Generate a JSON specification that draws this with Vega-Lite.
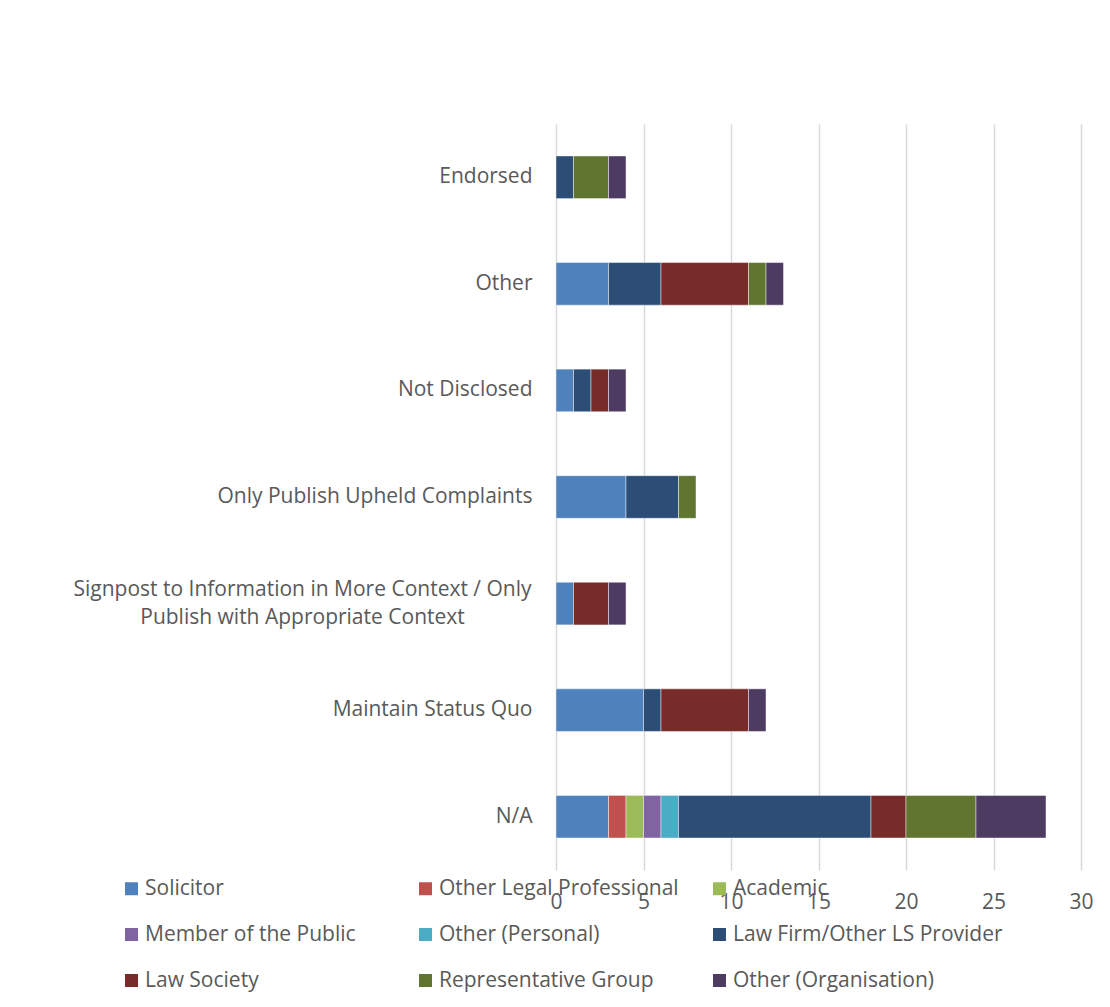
{
  "$schema": "https://vega.github.io/schema/vega-lite/v6.json",
  "width": 525,
  "height": 746,
  "autosize": {"type": "none"},
  "padding": {"left": 556, "top": 124, "right": 29, "bottom": 137},
  "background": "white",
  "config": {
    "view": {"stroke": null},
    "font": "Open Sans"
  },
  "data": {
    "values": [
      {"cat": "Endorsed", "group": "Law Firm/Other LS Provider", "k": 6, "n": 1},
      {"cat": "Endorsed", "group": "Representative Group", "k": 8, "n": 2},
      {"cat": "Endorsed", "group": "Other (Organisation)", "k": 9, "n": 1},
      {"cat": "Other", "group": "Solicitor", "k": 1, "n": 3},
      {"cat": "Other", "group": "Law Firm/Other LS Provider", "k": 6, "n": 3},
      {"cat": "Other", "group": "Law Society", "k": 7, "n": 5},
      {"cat": "Other", "group": "Representative Group", "k": 8, "n": 1},
      {"cat": "Other", "group": "Other (Organisation)", "k": 9, "n": 1},
      {"cat": "Not Disclosed", "group": "Solicitor", "k": 1, "n": 1},
      {"cat": "Not Disclosed", "group": "Law Firm/Other LS Provider", "k": 6, "n": 1},
      {"cat": "Not Disclosed", "group": "Law Society", "k": 7, "n": 1},
      {"cat": "Not Disclosed", "group": "Other (Organisation)", "k": 9, "n": 1},
      {"cat": "Only Publish Upheld Complaints", "group": "Solicitor", "k": 1, "n": 4},
      {"cat": "Only Publish Upheld Complaints", "group": "Law Firm/Other LS Provider", "k": 6, "n": 3},
      {"cat": "Only Publish Upheld Complaints", "group": "Representative Group", "k": 8, "n": 1},
      {"cat": "Signpost", "group": "Solicitor", "k": 1, "n": 1},
      {"cat": "Signpost", "group": "Law Society", "k": 7, "n": 2},
      {"cat": "Signpost", "group": "Other (Organisation)", "k": 9, "n": 1},
      {"cat": "Maintain Status Quo", "group": "Solicitor", "k": 1, "n": 5},
      {"cat": "Maintain Status Quo", "group": "Law Firm/Other LS Provider", "k": 6, "n": 1},
      {"cat": "Maintain Status Quo", "group": "Law Society", "k": 7, "n": 5},
      {"cat": "Maintain Status Quo", "group": "Other (Organisation)", "k": 9, "n": 1},
      {"cat": "N/A", "group": "Solicitor", "k": 1, "n": 3},
      {"cat": "N/A", "group": "Other Legal Professional", "k": 2, "n": 1},
      {"cat": "N/A", "group": "Academic", "k": 3, "n": 1},
      {"cat": "N/A", "group": "Member of the Public", "k": 4, "n": 1},
      {"cat": "N/A", "group": "Other (Personal)", "k": 5, "n": 1},
      {"cat": "N/A", "group": "Law Firm/Other LS Provider", "k": 6, "n": 11},
      {"cat": "N/A", "group": "Law Society", "k": 7, "n": 2},
      {"cat": "N/A", "group": "Representative Group", "k": 8, "n": 4},
      {"cat": "N/A", "group": "Other (Organisation)", "k": 9, "n": 4}
    ]
  },
  "mark": {"type": "bar", "stroke": "white", "strokeWidth": 0.75, "strokeOpacity": 0.6},
  "encoding": {
    "y": {
      "field": "cat",
      "type": "nominal",
      "sort": ["Endorsed", "Other", "Not Disclosed", "Only Publish Upheld Complaints", "Signpost", "Maintain Status Quo", "N/A"],
      "scale": {"paddingInner": 0.6, "paddingOuter": 0.3},
      "axis": {
        "title": null,
        "domain": false,
        "ticks": false,
        "labelFontSize": 21,
        "labelColor": "#595959",
        "labelLimit": 600,
        "labelLineHeight": 28,
        "labelExpr": "datum.value == 'Signpost' ? ['Signpost to Information in More Context / Only', 'Publish with Appropriate Context'] : datum.value",
        "labelAlign": {"condition": {"test": "datum.value == 'Signpost'", "value": "center"}, "value": "right"},
        "labelPadding": {"condition": {"test": "datum.value == 'Signpost'", "value": 254}, "value": 24},
        "labelOffset": {"condition": {"test": "datum.value == 'Signpost'", "value": -14}, "value": 0}
      }
    },
    "x": {
      "field": "n",
      "type": "quantitative",
      "aggregate": "sum",
      "stack": "zero",
      "scale": {"domain": [0, 30]},
      "axis": {
        "title": null,
        "values": [0, 5, 10, 15, 20, 25, 30],
        "domain": false,
        "ticks": false,
        "grid": true,
        "gridColor": "#D9D9D9",
        "gridWidth": 1.5,
        "labelFontSize": 21,
        "labelColor": "#595959",
        "labelPadding": 21,
        "labelFlush": false
      }
    },
    "order": {"field": "k", "type": "quantitative"},
    "color": {
      "field": "group",
      "type": "nominal",
      "scale": {
        "domain": ["Solicitor", "Other Legal Professional", "Academic", "Member of the Public", "Other (Personal)", "Law Firm/Other LS Provider", "Law Society", "Representative Group", "Other (Organisation)"],
        "range": ["#4F81BD", "#C0504D", "#9BBB59", "#8064A2", "#4BACC6", "#2C4D75", "#772C2A", "#5F7530", "#4D3B62"]
      },
      "legend": {
        "title": null,
        "orient": "none",
        "legendX": -435,
        "legendY": 754,
        "direction": "horizontal",
        "columns": 3,
        "gridAlign": "all",
        "columnPadding": 0,
        "rowPadding": 24,
        "symbolType": "square",
        "symbolSize": 169,
        "symbolStrokeWidth": 0,
        "symbolOpacity": 1,
        "labelFontSize": 21,
        "labelColor": "#595959",
        "labelLimit": 400,
        "labelOffset": 3
      }
    }
  }
}
